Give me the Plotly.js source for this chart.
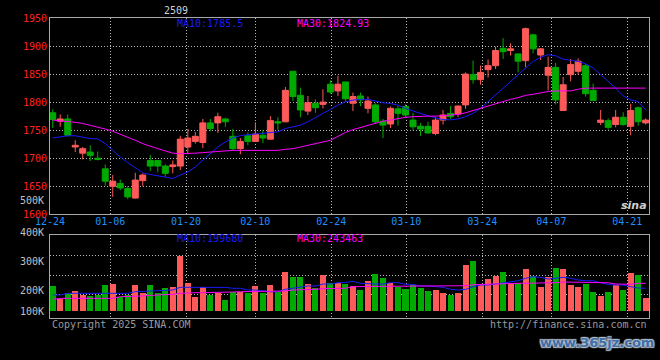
<!DOCTYPE html>
<html><head><meta charset="utf-8">
<script src="https://cdn.plot.ly/plotly-3.0.1.min.js"></script>
<style>html,body{margin:0;padding:0;background:#000;}#chart{width:660px;height:360px;}</style>
</head><body><div id="chart"></div>
<script>
// ---- data ----
const dateLabels = ['12-24','01-06','01-20','02-10','02-24','03-10','03-24','04-07','04-21'];
const openP  = [1781,1766,1770,1720,1709,1711,1700,1681,1650,1655,1646,1629,1660,1696,1696,1686,1685,1686,1720,1730,
                1728,1763,1763,1770,1739,1717,1740,1730,1741,1734,1765,1765,1855,1812,1784,1798,1796,1832,1820,1836,
                1798,1811,1789,1795,1766,1761,1788,1792,1768,1757,1757,1744,1768,1780,1779,1795,1849,1840,1858,1865,
                1896,1892,1886,1874,1920,1884,1848,1862,1785,1849,1855,1865,1821,1764,1767,1760,1773,1757,1790,1763];
const highP  = [1787,1778,1778,1732,1720,1723,1712,1689,1670,1662,1650,1674,1673,1706,1696,1689,1696,1740,1752,1747,
                1770,1770,1781,1772,1752,1736,1746,1764,1750,1775,1773,1827,1855,1826,1811,1805,1823,1839,1847,1836,
                1817,1817,1810,1798,1770,1792,1793,1796,1781,1763,1765,1773,1786,1793,1794,1853,1874,1865,1876,1899,
                1914,1905,1886,1933,1922,1896,1881,1870,1845,1877,1878,1868,1833,1786,1771,1786,1782,1797,1792,1771];
const lowP   = [1754,1756,1739,1711,1698,1695,1696,1651,1631,1643,1627,1628,1650,1677,1675,1667,1673,1679,1707,1726,
                1718,1748,1745,1756,1713,1707,1723,1729,1727,1733,1750,1764,1802,1773,1777,1781,1789,1815,1811,1801,
                1784,1793,1780,1762,1736,1754,1758,1773,1750,1740,1744,1741,1760,1770,1773,1788,1833,1831,1844,1859,
                1877,1883,1853,1862,1887,1875,1821,1796,1785,1837,1849,1810,1803,1759,1751,1755,1758,1741,1758,1760];
const closeP = [1769,1770,1741,1723,1717,1705,1698,1659,1659,1647,1631,1661,1670,1686,1686,1673,1688,1734,1736,1739,
                1763,1753,1774,1765,1717,1730,1730,1743,1736,1767,1763,1821,1810,1786,1799,1790,1800,1818,1832,1806,
                1810,1804,1802,1765,1759,1789,1780,1777,1756,1752,1745,1768,1777,1774,1793,1850,1840,1853,1865,1892,
                1890,1895,1873,1931,1895,1895,1862,1804,1831,1867,1873,1815,1803,1768,1755,1773,1760,1785,1765,1768];
const ma10P  = [1736,1738,1740,1740,1737,1735,1734.5,1726,1714,1702,1692,1683,1674,1671,1669,1667,1664,1670,1675.6,1684.5,
                1696,1708,1720,1729,1736,1740.5,1742,1743,1744,1746,1747,1753,1756,1759,1765,1772.6,1780,1787,1794.6,1800.6,
                1803.6,1805,1805,1802,1799,1797.6,1794.6,1788.7,1784,1780,1775.6,1772,1769,1768.4,1770,1774,1780,1789,1801,1813,
                1825,1837,1849,1861,1872.6,1880,1884.5,1882.7,1876.7,1874.4,1872.6,1868.4,1861,1849,1837,1825,1811,1804,1801,1786];
const ma30P  = [1768,1767,1766,1764,1762,1759,1756,1752,1748,1743,1738,1732,1726,1721,1717,1713,1709,1708,1708,1709,
                1710,1711,1712,1714,1714,1714,1714,1714,1714,1714,1714,1716,1717,1720,1723,1725,1728,1732,1739,1746,
                1751,1755,1759,1763,1766,1768,1771,1773,1774,1775,1775,1775,1776,1776,1778,1781,1785,1790,1794,1798,
                1802,1805,1808,1812,1814,1817,1819,1820,1820,1820,1823,1825,1825,1825,1825,1825,1824,1824,1824,1825];
// volume in thousands
const volume = [213.8,167.9,188.6,196.6,182.8,179.3,182.8,217.2,220.7,174.8,182.8,217.2,190.7,217.2,188.6,205.9,209.3,317.2,223.1,174.8,
                211.4,182.8,188.6,165.5,194.1,194.1,190.7,213.8,190.7,217.2,194.1,262.1,243.8,243.8,220.7,205.9,251.7,225.2,225.2,221.7,
                213.8,200,231,255.2,242.4,225.2,211.4,203.4,217.2,207.9,196.6,200,188.6,182.8,190.7,286.2,300,217.2,236.9,249.3,
                261,225.2,223.1,272.4,249.3,211.4,243.8,275.9,272.4,217.2,211.4,220.7,194.1,180.3,194.1,217.2,200,259.7,251.7,173.4];
const volMa10 = [182.8,182.8,188.6,188.6,188.6,188.6,188.6,186.2,186.2,186.2,188.6,194.1,194.1,196.6,197.5,197.5,200,209.3,209.3,211.4,
                 211.4,211.4,211.4,209,205.9,205.9,200,200,197,194,194,202.4,206,211,213.8,213.8,220.7,220.7,225,226,
                 230,223,220.7,220.7,220.7,225.3,225.3,219.5,219.5,213.8,213.8,211.4,209.3,202.4,200,202,211,217.2,217.2,220.7,
                 225,230,232,240.3,245.9,243.8,237.9,240.3,243.8,240.3,234.5,232,232,225,219.5,217.2,217.2,211.4,207,205.9];
const volMa30 = [167.9,171,171.3,171.3,171.3,171.3,171.3,171.3,171.3,177,177,179.3,179.3,181.6,182.8,182.8,185,188.6,190.7,190.7,
                 190.7,190.7,190.7,192,193,194.1,194.1,194.1,194.1,194.1,195,196.6,200,200,202.4,202.4,204.6,205.9,206.5,206,
                 211.4,212.6,212.6,212.6,212.6,212.6,212.6,212.6,212.6,212.6,212.6,212.6,212.6,212.6,212.6,214.8,218.3,219.5,219.5,221.7,
                 223.1,223.1,223.1,223.1,223.1,223.1,223.1,225.3,227.6,227.6,227.6,227.6,227.6,227.6,225,220.7,219.5,219.5,223,223];
const volLabels = ['500K','400K','300K','200K','100K'];

// ---- styling / layout ----
const RED = '#ff5a5a', GREEN = '#00aa00', BLUE = '#1a1aff', MAG = '#ff00ff';
const GRID = '#b8b8b8', BORDER = '#a8a8a8';
const FONT = 'DejaVu Sans Mono, monospace';
const idx = closeP.map((_, i) => i);
const VOL_BASE = 127.6;
const tickPos = [-0.35, 7.67, 17.76, 26.99, 37.12, 47.11, 57.23, 66.43, 76.55];
const volLabelY = [200, 232, 261, 290, 311]; // pixel rows of volume labels
const pyFromPx = px => (318 - px) / 300;

const traces = [
  {type:'candlestick', x: idx, open: openP, high: highP, low: lowP, close: closeP,
   xaxis:'x', yaxis:'y', whiskerwidth: 0, hoverinfo:'skip', showlegend:false,
   increasing:{line:{color:RED, width:1}, fillcolor:RED},
   decreasing:{line:{color:GREEN, width:1}, fillcolor:GREEN}},
  {type:'scatter', mode:'lines', x: idx, y: ma10P, xaxis:'x', yaxis:'y',
   line:{color:BLUE, width:1}, hoverinfo:'skip', showlegend:false},
  {type:'scatter', mode:'lines', x: idx, y: ma30P, xaxis:'x', yaxis:'y',
   line:{color:MAG, width:1}, hoverinfo:'skip', showlegend:false},
  {type:'bar', x: idx, y: volume.map(v => v - VOL_BASE), base: VOL_BASE, width: 0.8,
   xaxis:'x2', yaxis:'y2', hoverinfo:'skip', showlegend:false,
   marker:{color: idx.map(i => closeP[i] >= openP[i] ? RED : GREEN), line:{width:0}}},
  {type:'scatter', mode:'lines', x: idx, y: volMa10, xaxis:'x2', yaxis:'y2',
   line:{color:BLUE, width:1}, hoverinfo:'skip', showlegend:false},
  {type:'scatter', mode:'lines', x: idx, y: volMa30, xaxis:'x2', yaxis:'y2',
   line:{color:MAG, width:1}, hoverinfo:'skip', showlegend:false}
];

const ann = (text, x, y, color, xanchor, extra) => Object.assign({
  text, x, y, xref:'paper', yref:'paper', showarrow:false, xanchor: xanchor || 'left', yanchor:'middle',
  font:{family:FONT, size:10, color}
}, extra || {});

const annotations = [
  ann('2509', (176 - 50) / 599, pyFromPx(10), '#d0d0d0', 'center'),
  ann('MA10:1785.5', (175 - 50) / 599, pyFromPx(23.5), BLUE),
  ann('MA30:1824.93', (295 - 50) / 599, pyFromPx(23.5), MAG),
  ann('MA10:199680', (175 - 50) / 599, pyFromPx(238.5), BLUE),
  ann('MA30:243463', (295 - 50) / 599, pyFromPx(238.5), MAG),
  ann('Copyright 2025 SINA.COM', 0, pyFromPx(324), '#9a9a9a', 'left'),
  ann('http://finance.sina.com.cn', 1, pyFromPx(324), '#9a9a9a', 'right'),
  ann('www.365jz.com', (597 - 50) / 599, pyFromPx(342), '#3f6ea8', 'center',
      {font:{family:'DejaVu Sans', size:13, color:'#3f6ea8', weight:'bold',
             shadow:'1px 1px 1px #b8c4d0, -1px -1px 1px #b8c4d0, 1px -1px 1px #b8c4d0, -1px 1px 1px #b8c4d0'}}),
  ann('sina', (634 - 50) / 599, pyFromPx(205), '#cfcfcf', 'center',
      {font:{family:'DejaVu Sans', size:11, color:'#cfcfcf', weight:'bold', style:'italic'}})
].concat(volLabels.map((t, k) => ann(t, (46 - 50) / 599, pyFromPx(volLabelY[k]), '#c0c0c0', 'right')));

const layout = {
  width:660, height:360, paper_bgcolor:'#000', plot_bgcolor:'#000',
  margin:{l:50, r:11, t:18, b:42}, showlegend:false, hovermode:false,
  boxgap:0.2, boxgroupgap:0, bargap:0,
  font:{family:FONT, size:10, color:'#c0c0c0'},
  xaxis:{anchor:'y', range:[-0.36, 79.44], tickmode:'array', tickvals: tickPos, ticktext: dateLabels,
         tickfont:{family:FONT, size:10, color:'#1e90ff'}, ticks:'', ticklabelstandoff:-2, showgrid:true, gridcolor:GRID,
         griddash:'1px,2px', gridwidth:1, showline:true, linecolor:BORDER, linewidth:1, mirror:true,
         zeroline:false, rangeslider:{visible:false}, fixedrange:true},
  yaxis:{domain:[(318 - 214.3) / 300, 1], range:[1600, 1950], tickmode:'array',
         tickvals:[1600,1650,1700,1750,1800,1850,1900,1950], ticks:'',
         tickfont:{family:FONT, size:10, color:'#ff2020'}, showgrid:true, gridcolor:GRID,
         griddash:'1px,2px', showline:true, linecolor:BORDER, linewidth:1, mirror:true, zeroline:false, fixedrange:true},
  xaxis2:{anchor:'y2', matches:'x', range:[-0.36, 79.44], tickmode:'array', tickvals: tickPos, showticklabels:false,
          ticks:'', showgrid:true, gridcolor:GRID, griddash:'1px,2px', showline:true, linecolor:BORDER,
          linewidth:1, mirror:true, zeroline:false, rangeslider:{visible:false}, fixedrange:true},
  yaxis2:{domain:[0, (318 - 235) / 300], range:[103.45, 389.66], tickmode:'array',
          tickvals:[182.8, 251.7, 320.7], showticklabels:false, ticks:'', showgrid:true, gridcolor:GRID,
          griddash:'1px,2px', showline:true, linecolor:BORDER, linewidth:1, mirror:true, zeroline:false, fixedrange:true},
  annotations
};

Plotly.newPlot('chart', traces, layout, {staticPlot:true, displayModeBar:false});
</script>
</body></html>
